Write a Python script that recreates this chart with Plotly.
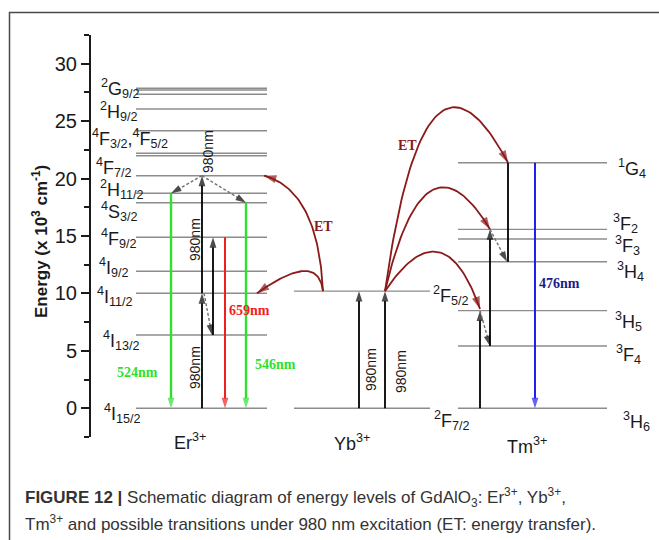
import numpy as np
import plotly.graph_objects as go

W, H = 659, 540

# ---------------- data: energy levels (10^3 cm^-1) ----------------
er_terms = ["4I15/2", "4I13/2", "4I11/2", "4I9/2", "4F9/2", "4S3/2", "2H11/2",
            "4F7/2", "4F5/2", "4F3/2", "2H9/2", "4G11/2", "2G9/2", "4G9/2", "2K15/2"]
er_levels = [0.0, 6.38, 10.01, 11.93, 14.89, 17.90, 18.72,
             20.25, 21.99, 22.20, 24.17, 26.06, 27.34, 27.71, 27.86]

yb_terms = ["2F7/2", "2F5/2"]
yb_levels = [0.0, 10.20]

tm_terms = ["3H6", "3F4", "3H5", "3H4", "3F3", "3F2", "1G4"]
tm_levels = [0.0, 5.42, 8.50, 12.76, 14.74, 15.58, 21.38]

# level labels drawn beside each ion
er_label_text = ["<sup>2</sup>G<sub>9/2</sub>", "<sup>2</sup>H<sub>9/2</sub>",
                 "<sup>4</sup>F<sub>3/2</sub>,<sup>4</sup>F<sub>5/2</sub>",
                 "<sup>4</sup>F<sub>7/2</sub>", "<sup>2</sup>H<sub>11/2</sub>",
                 "<sup>4</sup>S<sub>3/2</sub>", "<sup>4</sup>F<sub>9/2</sub>",
                 "<sup>4</sup>I<sub>9/2</sub>", "<sup>4</sup>I<sub>11/2</sub>",
                 "<sup>4</sup>I<sub>13/2</sub>", "<sup>4</sup>I<sub>15/2</sub>"]
tm_label_text = ["<sup>1</sup>G<sub>4</sub>", "<sup>3</sup>F<sub>2</sub>",
                 "<sup>3</sup>F<sub>3</sub>", "<sup>3</sup>H<sub>4</sub>",
                 "<sup>3</sup>H<sub>5</sub>", "<sup>3</sup>F<sub>4</sub>",
                 "<sup>3</sup>H<sub>6</sub>"]
yb_label_text = ["<sup>2</sup>F<sub>5/2</sub>", "<sup>2</sup>F<sub>7/2</sub>"]
ion_names = ["Er<sup>3+</sup>", "Yb<sup>3+</sup>", "Tm<sup>3+</sup>"]

# emission wavelengths (nm)
er_green_1, er_red, er_green_2 = "524nm", "659nm", "546nm"
tm_blue = "476nm"
pump = "980nm"

y_ticks = [0, 5, 10, 15, 20, 25, 30]

# ---------------- styling / layout constants ----------------
LEVEL_C = "#8c8c8c"
GREEN = "#2fe02f"
RED = "#f01e1e"
BLUE = "#1f1fef"
NAVY = "#1c1c8a"
ETC = "#8b1a1a"
DASH_C = "#707070"
SANS = "Liberation Sans, Arial, sans-serif"
SERIF = "Liberation Serif, Times New Roman, serif"

ER_X = (136, 267)
YB_X = (294, 430)
TM_X = (458, 607)


def E(terms, levels, name):
    return levels[terms.index(name)]


def pxx(x):
    return x / W


def pxy(y):
    return 1 - y / H


fig = go.Figure()


def hline(x0, x1, e):
    fig.add_trace(go.Scatter(x=[x0, x1], y=[e, e], mode="lines",
                             line=dict(color=LEVEL_C, width=1.4),
                             hoverinfo="skip", showlegend=False))


def arrow(xs, ys, color, width=2.0, dash="solid", head=11, head_color=None):
    sizes = [0] * (len(xs) - 1) + [head]
    fig.add_trace(go.Scatter(
        x=xs, y=ys, mode="lines+markers",
        line=dict(color=color, width=width, dash=dash),
        marker=dict(symbol="arrow", size=sizes, angleref="previous",
                    color=head_color or color, line=dict(width=0)),
        hoverinfo="skip", showlegend=False))


def bezier(p0, p1, p2, n=60):
    t = np.linspace(0, 1, n)
    x = (1 - t) ** 2 * p0[0] + 2 * t * (1 - t) * p1[0] + t ** 2 * p2[0]
    y = (1 - t) ** 2 * p0[1] + 2 * t * (1 - t) * p1[1] + t ** 2 * p2[1]
    return list(x), list(y)


# energy level lines
for e in er_levels:
    hline(*ER_X, e)
for e in yb_levels:
    hline(*YB_X, e)
for e in tm_levels:
    hline(*TM_X, e)

DOTS = "3px,2px"

# ---------------- Er3+ transitions ----------------
e0 = E(er_terms, er_levels, "4I15/2")
e13 = E(er_terms, er_levels, "4I13/2")
e11 = E(er_terms, er_levels, "4I11/2")
e9 = E(er_terms, er_levels, "4F9/2")
eS = E(er_terms, er_levels, "4S3/2")
eH = E(er_terms, er_levels, "2H11/2")
e7 = E(er_terms, er_levels, "4F7/2")

arrow([202, 202], [e0, e11], "black", 1.8)
arrow([202, 202], [e11, e7], "black", 1.8)
arrow([204, 212], [e11, e13], DASH_C, 1.4, DOTS, head_color="black")
arrow([213, 213], [e13, e9], "black", 1.8)
arrow([202, 171], [e7, eH], DASH_C, 1.4, DOTS, head_color="black")
arrow([202, 246], [e7, eS], DASH_C, 1.4, DOTS, head_color="black")
arrow([171, 171], [eH, e0], GREEN, 2.4)
arrow([225, 225], [e9, e0], RED, 2.0)
arrow([246, 246], [eS, e0], GREEN, 2.4)

# ---------------- Yb3+ excitation ----------------
y0 = E(yb_terms, yb_levels, "2F7/2")
y1 = E(yb_terms, yb_levels, "2F5/2")
arrow([359, 359], [y0, y1], "black", 1.8)
arrow([385, 385], [y0, y1], "black", 1.8)

# ---------------- Tm3+ transitions ----------------
t0 = E(tm_terms, tm_levels, "3H6")
tF4 = E(tm_terms, tm_levels, "3F4")
tH5 = E(tm_terms, tm_levels, "3H5")
tH4 = E(tm_terms, tm_levels, "3H4")
tF2 = E(tm_terms, tm_levels, "3F2")
tG4 = E(tm_terms, tm_levels, "1G4")

arrow([480, 480], [t0, tH5], "black", 1.8)
arrow([480, 490], [tH5, tF4], DASH_C, 1.4, DOTS, head_color="black")
arrow([490, 490], [tF4, tF2], "black", 1.8)
arrow([490, 507], [tF2, tH4], DASH_C, 1.4, DOTS, head_color="black")
fig.add_trace(go.Scatter(x=[508, 508], y=[tH4, tG4], mode="lines",
                         line=dict(color="black", width=1.8),
                         hoverinfo="skip", showlegend=False))
arrow([535, 535], [tG4, t0], BLUE, 2.0)

# ---------------- energy transfer curves ----------------
for p1, p2 in [((318, 19.0), (264, e7)),
               ((318, 13.8), (257, e11))]:
    xs, ys = bezier((323, y1), p1, p2)
    arrow(xs, ys, ETC, 1.8, head=13)
for p1, p2 in [((425, 35.0), (508, tG4)),
               ((425, 25.0), (490, tF2)),
               ((443, 17.8), (480, tH5 + 0.15))]:
    xs, ys = bezier((385, y1), p1, p2)
    arrow(xs, ys, ETC, 1.8, head=13)

# ---------------- annotations ----------------
ann = []


def label(x, y, text, size=18, color="#1a1a1a", family=SANS, xanchor="left",
          angle=0, bold=False):
    font = dict(size=size, color=color, family=family)
    if bold:
        font["weight"] = "bold"
    ann.append(dict(x=pxx(x), y=pxy(y), xref="paper", yref="paper",
                    text=text, showarrow=False, xanchor=xanchor,
                    yanchor="middle", textangle=angle, font=font))


er_label_pos = [(99, 88), (98, 112), (90, 138), (94, 167), (98, 189),
                (99, 211), (99, 238), (97, 268), (95, 296), (101, 340),
                (102, 413)]
for (x, y), t in zip(er_label_pos, er_label_text):
    label(x, y, t)

tm_label_pos = [(616, 168), (611, 224), (613, 245), (615, 271),
                (613, 321), (614, 354), (621, 421)]
for (x, y), t in zip(tm_label_pos, tm_label_text):
    label(x, y, t)

yb_label_pos = [(431, 295), (432, 420)]
for (x, y), t in zip(yb_label_pos, yb_label_text):
    label(x, y, t)

for (x, y), t in zip([(190, 441), (352, 442), (527, 445)], ion_names):
    label(x, y, t, xanchor="center")

# wavelengths
label(137, 372, er_green_1, 14, GREEN, SERIF, "center", bold=True)
label(249, 310, er_red, 14, RED, SERIF, "center", bold=True)
label(275, 364, er_green_2, 14, GREEN, SERIF, "center", bold=True)
label(559, 283, tm_blue, 14, NAVY, SERIF, "center", bold=True)
for (x, y) in [(195, 368), (195, 240), (208, 152), (371, 370), (401, 372)]:
    label(x, y, pump, 14, "#1a1a1a", SANS, "center", angle=-90)
label(323, 226, "ET", 14, ETC, SERIF, "center", bold=True)
label(407, 145, "ET", 14, ETC, SERIF, "center", bold=True)

# axis title
label(40, 242, "<b>Energy (x 10<sup>3</sup> cm<sup>-1</sup>)</b>", 17,
      "#1a1a1a", SANS, "center", angle=-90)

# caption
label(23, 497, "<b>FIGURE 12 |</b> Schematic diagram of energy levels of "
      "GdAlO<sub>3</sub>: Er<sup>3+</sup>, Yb<sup>3+</sup>,", 17, "#333333")
label(23, 523, "Tm<sup>3+</sup> and possible transitions under 980 nm "
      "excitation (ET: energy transfer).", 17, "#333333")

frame = [
    dict(type="line", xref="paper", yref="paper", x0=pxx(9), x1=1.0,
         y0=pxy(12.5), y1=pxy(12.5), line=dict(color="#4a4a4a", width=1.5)),
    dict(type="line", xref="paper", yref="paper", x0=pxx(9.5), x1=pxx(9.5),
         y0=pxy(12), y1=0.0, line=dict(color="#4a4a4a", width=1.5)),
]

fig.update_layout(
    width=W, height=H, margin=dict(l=0, r=0, t=0, b=0),
    paper_bgcolor="white", plot_bgcolor="white",
    showlegend=False, annotations=ann, shapes=frame,
    xaxis=dict(range=[0, W], domain=[0, 1], visible=False, fixedrange=True),
    yaxis=dict(range=[-2.5, 32.5], domain=[1 - 437 / H, 1 - 35 / H],
               anchor="free", position=90 / W, side="left",
               showgrid=False, zeroline=False, showline=True,
               linecolor="#1a1a1a", linewidth=2,
               tickmode="array", tickvals=y_ticks,
               ticks="outside", ticklen=8, tickwidth=2, tickcolor="#1a1a1a",
               tickfont=dict(family=SANS, size=20, color="#1a1a1a"),
               minor=dict(dtick=2.5, tick0=-2.5, ticks="outside", ticklen=5,
                          tickwidth=1.5, tickcolor="#1a1a1a"),
               fixedrange=True),
)

fig.write_html("out.html")
